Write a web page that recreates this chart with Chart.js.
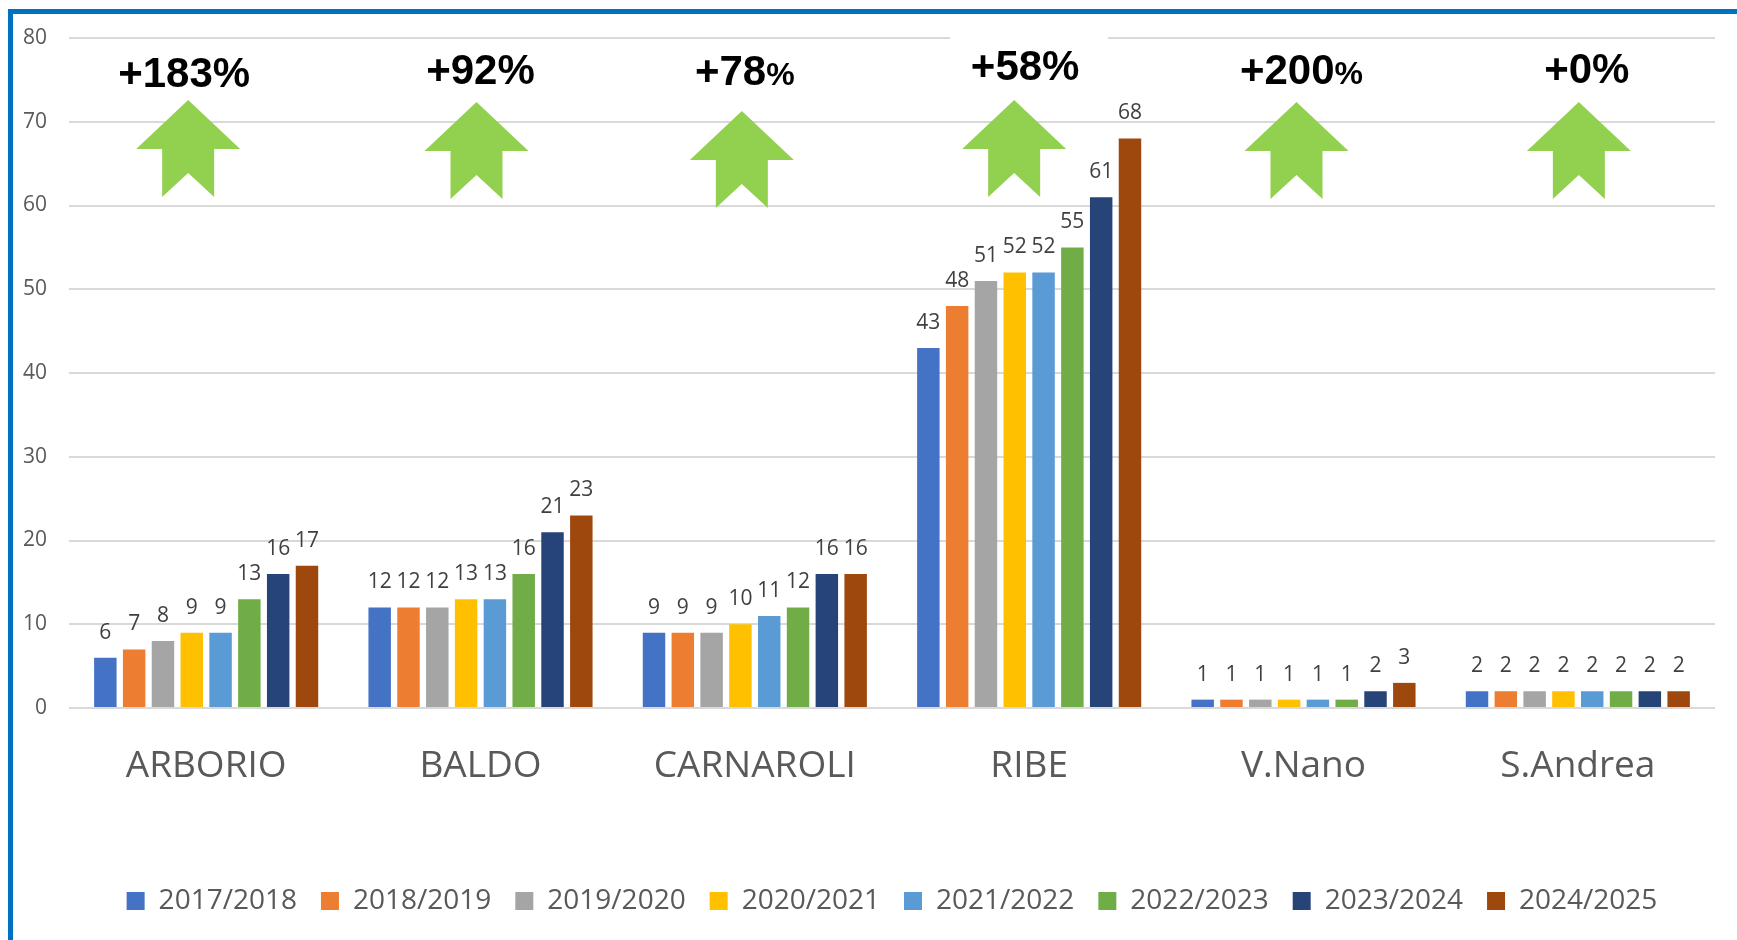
<!DOCTYPE html>
<html>
<head>
<meta charset="utf-8">
<title>Riso - iscrizioni</title>
<script src="https://cdn.jsdelivr.net/npm/chart.js@4.4.1/dist/chart.umd.min.js"></script>
<style>
  html, body { margin: 0; padding: 0; background: #fff; }
  #wrap { position: relative; width: 1737px; height: 940px; overflow: hidden; }
  #frame {
    position: absolute; left: 8px; top: 9px; right: -10px; bottom: -10px;
    border-top: 5px solid #0070C0; border-left: 5px solid #0070C0;
  }
  #chart { position: absolute; left: 0; top: 0; }
</style>
</head>
<body>
<div id="wrap">
  <div id="frame"></div>
  <canvas id="chart" width="1737" height="940"></canvas>
</div>
<script>
// ------------------------------------------------------------
//  Dati
// ------------------------------------------------------------
const categories = ['ARBORIO', 'BALDO', 'CARNAROLI', 'RIBE', 'V.Nano', 'S.Andrea']

const seasons = ['2017/2018', '2018/2019', '2019/2020', '2020/2021',
                 '2021/2022', '2022/2023', '2023/2024', '2024/2025']

const s2017 = [6, 12, 9, 43, 1, 2]
const s2018 = [7, 12, 9, 48, 1, 2]
const s2019 = [8, 12, 9, 51, 1, 2]
const s2020 = [9, 13, 10, 52, 1, 2]
const s2021 = [9, 13, 11, 52, 1, 2]
const s2022 = [13, 16, 12, 55, 1, 2]
const s2023 = [16, 21, 16, 61, 2, 2]
const s2024 = [17, 23, 16, 68, 3, 2]

const growth = [183, 92, 78, 58, 200, 0]   // variazione % per varietà

const yTicks = [0, 10, 20, 30, 40, 50, 60, 70, 80]

// ------------------------------------------------------------
//  Stili
// ------------------------------------------------------------
const colors = ['#4472C4', '#ED7D31', '#A5A5A5', '#FFC000',
                '#5B9BD5', '#70AD47', '#264478', '#9E480E']
const seriesValues = [s2017, s2018, s2019, s2020, s2021, s2022, s2023, s2024]

const FONT = "'Open Sans', 'Noto Sans', sans-serif"
const GREY = '#595959'

// posizione frecce / etichette rispetto al centro categoria e al top dell'area
const arrowLayout = [
  { tipDx: -18, tipDy: 62, txtDx: -22, txtDy: 37, small: false },
  { tipDx: -4,  tipDy: 64, txtDx: 0,   txtDy: 34, small: false },
  { tipDx: -13, tipDy: 73, txtDx: -10, txtDy: 35, small: true  },
  { tipDx: -15, tipDy: 62, txtDx: -4,  txtDy: 30, small: false, knockout: true },
  { tipDx: -7,  tipDy: 64, txtDx: -2,  txtDy: 34, small: true  },
  { tipDx: 1,   tipDy: 64, txtDx: 9,   txtDy: 33, small: false },
]

// ------------------------------------------------------------
//  Plugin: etichette valori sopra le barre
// ------------------------------------------------------------
const valueLabels = {
  id: 'valueLabels',
  afterDatasetsDraw(chart) {
    const ctx = chart.ctx
    ctx.save()
    ctx.font = `21px ${FONT}`
    ctx.fillStyle = '#404040'
    ctx.textAlign = 'center'
    ctx.textBaseline = 'middle'
    chart.data.datasets.forEach((ds, di) => {
      chart.getDatasetMeta(di).data.forEach((bar, i) => {
        ctx.fillText(String(ds.data[i]), bar.x, bar.y - 25)
      })
    })
    ctx.restore()
  }
}

// ------------------------------------------------------------
//  Plugin: frecce verdi con percentuale
// ------------------------------------------------------------
function drawArrow(ctx, x, y) {
  ctx.beginPath()
  ctx.moveTo(x, y)
  ctx.lineTo(x + 52, y + 49)
  ctx.lineTo(x + 26, y + 49)
  ctx.lineTo(x + 26, y + 97)
  ctx.lineTo(x, y + 73)
  ctx.lineTo(x - 26, y + 97)
  ctx.lineTo(x - 26, y + 49)
  ctx.lineTo(x - 52, y + 49)
  ctx.closePath()
  ctx.fillStyle = '#92D050'
  ctx.fill()
}

const growthArrows = {
  id: 'growthArrows',
  beforeDatasetsDraw(chart) {
    const { ctx, chartArea, scales: { x } } = chart
    ctx.save()
    categories.forEach((c, i) => {
      const L = arrowLayout[i]
      const cx = x.getPixelForValue(i)
      if (L.knockout) {
        ctx.fillStyle = '#fff'
        ctx.fillRect(cx + L.txtDx - 75, chartArea.top - 10, 158, 40)
      }
      drawArrow(ctx, cx + L.tipDx, chartArea.top + L.tipDy)

      const main = '+' + growth[i]
      const fBig = `bold 42px 'Liberation Sans', Arial, sans-serif`
      const fPct = `bold ${L.small ? 32 : 42}px 'Liberation Sans', Arial, sans-serif`
      ctx.font = fBig
      const w1 = ctx.measureText(main).width
      ctx.font = fPct
      const w2 = ctx.measureText('%').width
      const left = cx + L.txtDx - (w1 + w2) / 2
      const ty = chartArea.top + L.txtDy
      ctx.fillStyle = '#000'
      ctx.textAlign = 'left'
      ctx.textBaseline = 'middle'
      ctx.font = fBig
      ctx.fillText(main, left, ty)
      ctx.font = fPct
      ctx.fillText('%', left + w1, ty + (L.small ? 3 : 0))
    })
    ctx.restore()
  }
}

// ------------------------------------------------------------
//  Grafico
// ------------------------------------------------------------
const datasets = seasons.map((label, i) => ({
  label,
  data: seriesValues[i],
  backgroundColor: colors[i],
  borderWidth: 0,
  categoryPercentage: 0.84,
  barPercentage: 0.78,
}))

new Chart(document.getElementById('chart'), {
  type: 'bar',
  data: { labels: categories, datasets },
  plugins: [growthArrows, valueLabels],
  options: {
    responsive: false,
    animation: false,
    devicePixelRatio: 1,
    layout: { padding: { left: 0, right: 22, top: 38, bottom: 15 } },
    plugins: {
      legend: {
        position: 'bottom',
        fullSize: false,
        labels: {
          boxWidth: 18,
          boxHeight: 18,
          padding: 24,
          color: GREY,
          font: { family: FONT, size: 28 },
        }
      },
      tooltip: { enabled: false },
    },
    scales: {
      x: {
        grid: { display: false, drawTicks: false },
        border: { display: false },
        ticks: {
          color: GREY,
          font: { family: FONT, size: 37 },
          padding: 36,
          maxRotation: 0,
          autoSkip: false,
        },
        afterFit: s => { s.height = 155 },
      },
      y: {
        min: 0,
        max: 80,
        afterBuildTicks: s => { s.ticks = yTicks.map(v => ({ value: v })) },
        grid: { color: '#D9D9D9', lineWidth: 2, drawTicks: false },
        border: { display: false },
        ticks: {
          color: GREY,
          font: { family: FONT, size: 21 },
          padding: 22,
        },
        afterFit: s => { s.width = 69 },
      }
    }
  }
})
</script>
</body>
</html>
